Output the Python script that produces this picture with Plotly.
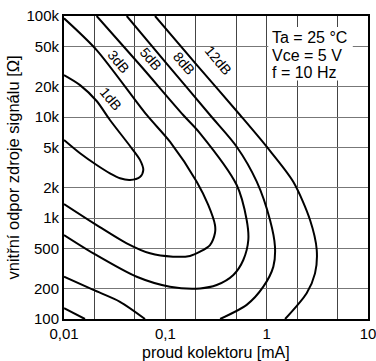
import math
import plotly.graph_objects as go

# ---- data (collector current [mA], source resistance [ohm]) ----
db1_x = [0.01, 0.0144, 0.021, 0.0284, 0.0448, 0.0562, 0.0606, 0.0562, 0.0448, 0.0357, 0.0284, 0.021, 0.0144, 0.01]
db1_y = [26000, 20700, 14400, 9340, 5160, 3760, 2985, 2545, 2380, 2475, 2770, 3345, 4370, 5915]

db3_x = [0.01, 0.021, 0.0655, 0.111, 0.204, 0.265, 0.309, 0.309, 0.276, 0.220, 0.175, 0.119, 0.0706, 0.0416, 0.021, 0.01]
db3_y = [94900, 46000, 10470, 5690, 2287, 1346, 852, 710, 540, 464, 421, 414, 447, 562, 852, 1377]

db5_x = [0.021, 0.0562, 0.150, 0.220, 0.506, 0.635, 0.659, 0.588, 0.469, 0.321, 0.220, 0.111, 0.0522, 0.0195, 0.01]
db5_y = [100000, 32700, 10470, 6900, 2123, 955, 605, 384, 273, 217, 201, 209, 262, 447, 679]

db8_x = [0.0416, 0.106, 0.276, 0.506, 0.798, 1.079, 1.208, 1.164, 0.927, 0.635, 0.347]
db8_y = [100000, 32700, 10470, 5080, 2287, 955, 520, 330, 209, 138, 100]
db8_low_x = [0.01, 0.0195, 0.0357, 0.063]
db8_low_y = [262, 194, 148, 100]

db12_x = [0.0791, 0.205, 0.546, 1.0, 1.83, 2.68, 3.12, 3.00, 2.48, 1.52]
db12_y = [100000, 32700, 10470, 5080, 2287, 955, 482, 283, 180, 100]
db12_low_x = [0.01, 0.0161]
db12_low_y = [128, 100]

curve_labels = ["1dB", "3dB", "5dB", "8dB", "12dB"]
label_x = [0.0289, 0.0348, 0.0717, 0.153, 0.331]
label_y = [14980, 35000, 37200, 34400, 36600]

x_ticks = [0.01, 0.1, 1, 10]
x_ticktext = ["0,01", "0,1", "1", "10"]
x_minor = [0.02, 0.05, 0.2, 0.5, 2, 5]
y_ticks = [100, 200, 500, 1000, 2000, 5000, 10000, 20000, 50000, 100000]
y_ticktext = ["100", "200", "500", "1k", "2k", "5k", "10k", "20k", "50k", "100k"]

conditions = ["Ta = 25 °C", "Vce = 5 V", "f = 10 Hz"]
x_title = "proud kolektoru [mA]"
y_title = "vnitřní odpor zdroje signálu [Ω]"

FONT = "Liberation Sans, Arial, sans-serif"

fig = go.Figure()
for xs, ys in [(db1_x, db1_y), (db3_x, db3_y), (db5_x, db5_y), (db8_x, db8_y),
               (db8_low_x, db8_low_y), (db12_x, db12_y), (db12_low_x, db12_low_y)]:
    fig.add_trace(go.Scatter(x=xs, y=ys, mode="lines",
                             line=dict(color="black", width=2, shape="spline", smoothing=0.8),
                             hoverinfo="skip", showlegend=False))

for t, lx, ly in zip(curve_labels, label_x, label_y):
    fig.add_annotation(x=math.log10(lx), y=math.log10(ly), xref="x", yref="y",
                       text=t, showarrow=False, textangle=50,
                       font=dict(family=FONT, size=14, color="black"))

# white box behind the measurement conditions
fig.add_shape(type="rect", xref="paper", yref="paper", x0=0.672, x1=0.95, y0=0.787, y1=0.964,
              fillcolor="white", line=dict(width=0), layer="above")
for i, c in enumerate(conditions):
    fig.add_annotation(x=0.678, y=0.929 - i * 0.058, xref="paper", yref="paper",
                       xanchor="left", yanchor="middle", align="left",
                       text=c, showarrow=False,
                       font=dict(family=FONT, size=16, color="black"))

fig.add_annotation(x=0.5, y=-0.112, xref="paper", yref="paper", xanchor="center", yanchor="middle",
                   text=x_title, showarrow=False, font=dict(family=FONT, size=16, color="black"))
fig.add_annotation(x=-0.171, y=0.5, xref="paper", yref="paper", xanchor="center", yanchor="middle",
                   text=y_title, showarrow=False, textangle=-90,
                   font=dict(family=FONT, size=16.5, color="black"))

fig.update_xaxes(type="log", range=[-2, 1], tickvals=x_ticks, ticktext=x_ticktext,
                 showgrid=True, gridcolor="#444", gridwidth=1,
                 minor=dict(tickvals=x_minor, showgrid=True, gridcolor="#444", gridwidth=1, ticks=""),
                 ticks="", showline=True, linecolor="black", linewidth=2, mirror=True,
                 zeroline=False, automargin=False, ticklabeloverflow="allow",
                 tickfont=dict(family=FONT, size=15, color="black"))
fig.update_yaxes(type="log", range=[2, 5], tickvals=y_ticks, ticktext=y_ticktext,
                 showgrid=True, gridcolor="#777", gridwidth=1,
                 ticks="", showline=True, linecolor="black", linewidth=2, mirror=True,
                 zeroline=False, automargin=False, ticklabeloverflow="allow",
                 tickfont=dict(family=FONT, size=15, color="black"))

fig.update_layout(width=376, height=361, margin=dict(l=64, r=8, t=16, b=42),
                  plot_bgcolor="white", paper_bgcolor="white", showlegend=False)

fig.write_html("out.html", config={"displayModeBar": False},
               post_script="document.body.style.margin='0';document.body.style.overflow='hidden';")
